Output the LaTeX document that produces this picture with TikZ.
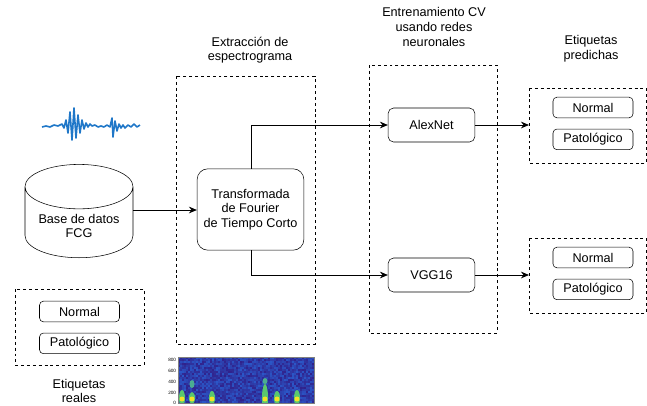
\documentclass[tikz,border=0pt]{standalone}
\usepackage{fontspec}
\setmainfont{Liberation Sans}
\usetikzlibrary{shapes.geometric, arrows.meta, positioning}
\definecolor{wave}{RGB}{31,119,200}
\definecolor{specdark}{RGB}{48,34,140}
\definecolor{speclight}{RGB}{40,110,225}
\definecolor{specgreen}{RGB}{90,200,110}
\definecolor{specyellow}{RGB}{245,225,40}

\begin{document}
\begin{tikzpicture}[
    x=0.75pt, y=-0.75pt,
    font=\fontsize{9.5}{11}\selectfont,
    block/.style={rectangle, draw, rounded corners=4pt, align=center, minimum width=65pt, minimum height=25.5pt},
    tag/.style={rectangle, draw, rounded corners=3pt, minimum width=60pt, minimum height=15.5pt, inner sep=1pt},
    group/.style={draw, dashed, dash pattern=on 2.2pt off 2.2pt},
    title/.style={align=center},
    link/.style={-{Stealth[length=6pt, width=5pt]}, semithick}
]
\useasboundingbox (0,0) rectangle (647,405);

% grupos punteados
\draw[group] (176,76) rectangle (315,344);
\draw[group] (369,65) rectangle (497,333);
\draw[group] (529,88) -- (646,88) -- (646,163) -- (529,163) -- cycle;
\draw[group] (529,238) -- (646,238) -- (646,313) -- (529,313) -- cycle;
\draw[group] (15,289) rectangle (144,365);

% titulos
\node[title] (ttl_stft) at (250,50) {Extracción de\\espectrograma};
\node[title] (ttl_cv) at (434,27) {Entrenamiento CV\\usando redes\\neuronales};
\node[title] (ttl_pred) at (591,49) {Etiquetas\\predichas};
\node[title] (ttl_real) at (79,391) {Etiquetas\\reales};

% bloques principales
\node[cylinder, draw, shape border rotate=90, aspect=5, minimum width=81pt, minimum height=70pt, anchor=south] (db) at (79,258) {};
\node[align=center] (dbtext) at (79,226) {Base de datos\\FCG};
\node[block, minimum width=80pt, minimum height=61pt, rounded corners=8pt] (stft) at (250.5,209.5) {Transformada\\de Fourier\\de Tiempo Corto};
\node[block] (alexnet) at (431.5,125) {AlexNet};
\node[block] (vgg) at (431.5,275) {VGG16};

% etiquetas
\node[tag] (real_n) at (79.5,311.5) {Normal};
\node[tag, below=8pt of real_n] (real_p) {Patológico};
\node[tag] (pa_n) at (593,107.5) {Normal};
\node[tag, below=8pt of pa_n] (pa_p) {Patológico};
\node[tag] (pv_n) at (593,257.5) {Normal};
\node[tag, below=8pt of pv_n] (pv_p) {Patológico};
\coordinate (pa_in) at (529,125);
\coordinate (pv_in) at (529,275);

% conexiones
\draw[link] (db.east |- 0,210) -- (stft.west |- 0,210);
\draw[link] ([xshift=0.5pt]stft.north) |- (alexnet.west);
\draw[link] ([xshift=0.5pt]stft.south) |- (vgg.west);
\draw[link] (alexnet.east) -- (pa_in);
\draw[link] (vgg.east) -- (pv_in);

% senal FCG
\draw[wave, line width=1.2pt, line join=round] plot coordinates {
 (42,127) (46,126) (50,127) (54,125) (58,126) (62,124) (64,128) (66,120)
 (68,133) (70,112) (72,140) (74,108) (76,138) (78,115) (80,133) (82,120)
 (84,129) (86,123) (88,127) (90,124) (92,126) (95,125) (98,127) (101,126)
 (104,127) (107,125) (110,127) (112,118) (113,137) (115,121) (117,131)
 (119,124) (121,128) (123,125) (125,128) (128,125) (131,127) (134,124)
 (137,127) (140,125)};

% espectrograma
\begin{scope}
  \clip (178,357) rectangle (314,403);
  \fill[specdark] (178,357) rectangle (314,403);
  \pgfmathsetseed{7}
  \foreach \i in {0,...,67} {
    \foreach \j in {0,...,22} {
      \pgfmathsetmacro\v{int(rnd*70)}
      \fill[speclight!\v!specdark] (178+2*\i,357+2*\j) rectangle +(2,2);
    }
  }
  \foreach \bx/\bh in {182/8, 192/6, 212/7, 265/14, 277/7, 297/8} {
    \fill[specgreen] (\bx,398) ellipse (3 and \bh);
    \fill[specyellow] (\bx,399) ellipse (2.5 and 2.5);
  }
  \fill[specgreen!70!speclight] (192,384) ellipse (2.5 and 4);
  \fill[specgreen!70!speclight] (265,381) ellipse (2.5 and 3);
\end{scope}
\draw[very thin, gray] (178,357) rectangle (314,403);
\foreach \yy/\lab in {360/800, 371/600, 382/400, 393/200, 403/0}
  \node[font=\fontsize{3.5}{4}\selectfont, anchor=east, inner sep=0.5pt] (tick\lab) at (177,\yy) {\lab};

\end{tikzpicture}
\end{document}
